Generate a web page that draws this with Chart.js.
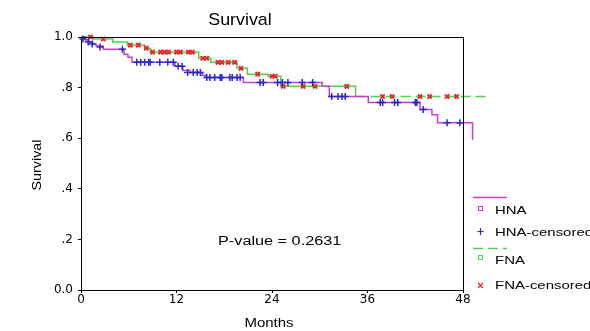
<!DOCTYPE html>
<html>
<head>
<meta charset="utf-8">
<script src="https://cdn.jsdelivr.net/npm/chart.js@4.4.1/dist/chart.umd.min.js"></script>
<style>
  body { margin: 0; background: #fff; }
  #wrap { width: 590px; height: 331px; }
</style>
</head>
<body>
<div id="wrap"><canvas id="km" width="590" height="331"></canvas></div>
<script>
// --- Data (months, survival) ---
const xTicks = [0, 12, 24, 36, 48];
const yTicks = [0, 0.2, 0.4, 0.6, 0.8, 1.0];

const hnaTimes = [0, 0.5, 1.0, 1.5, 1.9, 2.8, 5.4, 5.9, 6.4, 11.8, 12.8, 13.7, 15.2, 15.6, 20.4, 30.3, 31.2, 36.1, 42.6, 44.1, 44.8, 49.2, 50.5];
const hnaSurv  = [1.0, 0.988, 0.980, 0.972, 0.964, 0.952, 0.932, 0.920, 0.900, 0.884, 0.868, 0.860, 0.849, 0.840, 0.820, 0.805, 0.765, 0.741, 0.713, 0.693, 0.661, 0.594, 0.594];

const hnaCensTimes = [0.25, 0.9, 1.4, 2.4, 5.2, 7.0, 7.5, 8.0, 8.5, 8.7, 9.9, 10.9, 11.6, 12.2, 12.7, 13.4, 14.1, 14.6, 15.0, 15.8, 16.2, 16.8, 17.5, 17.7, 18.7, 19.0, 19.6, 20.0, 22.5, 22.9, 24.7, 25.3, 26.0, 27.8, 29.1, 31.5, 32.3, 32.8, 33.2, 37.6, 37.9, 39.4, 39.8, 42.0, 42.2, 43.0, 46.0, 47.6];
const hnaCensSurv  = [0.992, 0.980, 0.972, 0.960, 0.952, 0.900, 0.900, 0.900, 0.900, 0.900, 0.900, 0.900, 0.900, 0.884, 0.884, 0.860, 0.860, 0.860, 0.860, 0.840, 0.840, 0.840, 0.840, 0.840, 0.840, 0.840, 0.840, 0.840, 0.820, 0.820, 0.820, 0.820, 0.820, 0.820, 0.820, 0.765, 0.765, 0.765, 0.765, 0.741, 0.741, 0.741, 0.741, 0.741, 0.741, 0.713, 0.661, 0.661];

const fnaTimes = [0, 1.5, 4.0, 5.8, 8.0, 8.7, 14.8, 16.3, 19.6, 20.9, 23.5, 25.1, 34.5, 51.4];
const fnaSurv  = [1.0, 0.992, 0.980, 0.968, 0.956, 0.940, 0.916, 0.900, 0.876, 0.853, 0.845, 0.805, 0.765, 0.765];

const fnaCensTimes = [1.2, 2.8, 6.2, 7.2, 8.2, 9.0, 10.0, 10.5, 11.0, 12.0, 12.5, 13.5, 14.0, 15.3, 15.8, 17.2, 17.7, 18.5, 19.3, 20.1, 22.2, 24.0, 24.4, 25.4, 27.9, 29.4, 33.4, 37.9, 39.1, 42.6, 43.8, 46.0, 47.2];
const fnaCensSurv  = [1.0, 0.992, 0.968, 0.968, 0.956, 0.940, 0.940, 0.940, 0.940, 0.940, 0.940, 0.940, 0.940, 0.916, 0.916, 0.900, 0.900, 0.900, 0.900, 0.876, 0.853, 0.845, 0.845, 0.805, 0.805, 0.805, 0.805, 0.765, 0.765, 0.765, 0.765, 0.765, 0.765];

const HNA_COLOR = '#cc3ccc';
const HNA_CENS = '#2828c8';
const FNA_COLOR = '#4fd04f';
const FNA_CENS = '#e82828';

const pts = (xs, ys) => xs.map((x, i) => ({ x: x, y: ys[i] }));

// --- text helper: reference text is horizontally stretched ---
function stretchText(ctx, text, x, y, size, align, sx) {
    ctx.save();
    ctx.font = size + 'px "Liberation Sans", Arial, sans-serif';
    ctx.fillStyle = '#000';
    ctx.textBaseline = 'alphabetic';
    ctx.translate(x, y);
    ctx.scale(sx, 1);
    ctx.textAlign = align;
    ctx.fillText(text, 0, 0);
    ctx.restore();
}

const decorPlugin = {
    id: 'decor',
    afterDraw(chart) {
        const ctx = chart.ctx;
        const a = chart.chartArea;
        ctx.save();
        // box: top and right edges
        ctx.strokeStyle = '#000';
        ctx.lineWidth = 1;
        ctx.beginPath();
        ctx.moveTo(a.left, a.top + 0.5);
        ctx.lineTo(a.right + 0.5, a.top + 0.5);
        ctx.lineTo(a.right + 0.5, a.bottom);
        ctx.stroke();

        // titles
        stretchText(ctx, 'Survival', 240, 25, 17, 'center', 1.05);
        stretchText(ctx, 'Months', 269, 327, 12, 'center', 1.25);
        ctx.save();
        ctx.translate(41, 165);
        ctx.rotate(-Math.PI / 2);
        stretchText(ctx, 'Survival', 0, 0, 13, 'center', 1.1);
        ctx.restore();
        stretchText(ctx, 'P-value = 0.2631', 218, 245, 12.5, 'left', 1.3);

        // legend
        const lx = 473, tx = 495;
        ctx.lineWidth = 1.5;
        ctx.strokeStyle = HNA_COLOR;
        ctx.beginPath(); ctx.moveTo(lx, 197.5); ctx.lineTo(507, 197.5); ctx.stroke();
        ctx.lineWidth = 1;
        ctx.strokeRect(478.5, 206.5, 4, 4);
        stretchText(ctx, 'HNA', tx, 214, 11.5, 'left', 1.3);

        ctx.strokeStyle = HNA_CENS;
        ctx.lineWidth = 1.2;
        ctx.beginPath();
        ctx.moveTo(480.5, 228); ctx.lineTo(480.5, 235);
        ctx.moveTo(477.5, 231.5); ctx.lineTo(483.5, 231.5);
        ctx.stroke();
        stretchText(ctx, 'HNA-censored', tx, 236, 11.5, 'left', 1.3);

        ctx.strokeStyle = FNA_COLOR;
        ctx.lineWidth = 1.5;
        ctx.setLineDash([10, 5]);
        ctx.beginPath(); ctx.moveTo(lx, 248.5); ctx.lineTo(507, 248.5); ctx.stroke();
        ctx.setLineDash([]);
        ctx.lineWidth = 1;
        ctx.strokeRect(478.5, 255.5, 4, 4);
        stretchText(ctx, 'FNA', tx, 264, 11.5, 'left', 1.3);

        ctx.strokeStyle = FNA_CENS;
        ctx.lineWidth = 1.2;
        ctx.beginPath();
        ctx.moveTo(478, 283); ctx.lineTo(483, 288);
        ctx.moveTo(483, 283); ctx.lineTo(478, 288);
        ctx.stroke();
        stretchText(ctx, 'FNA-censored', tx, 289, 11.5, 'left', 1.3);
        ctx.restore();
    }
};

const tickFont = { family: '"DejaVu Sans", sans-serif', size: 12 };

new Chart(document.getElementById('km'), {
    type: 'scatter',
    data: {
        datasets: [
            {
                label: 'HNA',
                data: pts(hnaTimes, hnaSurv),
                showLine: true,
                stepped: 'before',
                borderColor: HNA_COLOR,
                borderWidth: 1.5,
                pointRadius: 0,
                clip: false,
                order: 3
            },
            {
                label: 'FNA',
                data: pts(fnaTimes, fnaSurv),
                showLine: true,
                stepped: 'before',
                borderColor: FNA_COLOR,
                borderWidth: 1.5,
                // the long flat tail is where the dash pattern shows
                segment: { borderDash: c => c.p0.parsed.x >= 34 ? [10, 5] : undefined },
                pointRadius: 0,
                clip: false,
                order: 4
            },
            {
                label: 'HNA-censored',
                data: pts(hnaCensTimes, hnaCensSurv),
                showLine: false,
                pointStyle: 'cross',
                pointRadius: 3.5,
                pointBorderWidth: 1.5,
                borderColor: HNA_CENS,
                backgroundColor: HNA_CENS,
                clip: false,
                order: 1
            },
            {
                label: 'FNA-censored',
                data: pts(fnaCensTimes, fnaCensSurv),
                showLine: false,
                pointStyle: 'crossRot',
                pointRadius: 3,
                pointBorderWidth: 2,
                borderColor: FNA_CENS,
                backgroundColor: FNA_CENS,
                clip: false,
                order: 2
            }
        ]
    },
    options: {
        responsive: false,
        animation: false,
        layout: { padding: { left: 0, top: 37, right: 127, bottom: 0 } },
        plugins: {
            legend: { display: false },
            tooltip: { enabled: false }
        },
        scales: {
            x: {
                type: 'linear',
                min: 0,
                max: 48,
                afterBuildTicks: s => { s.ticks = xTicks.map(v => ({ value: v })); },
                ticks: { font: tickFont, color: '#000', padding: 0, maxRotation: 0 },
                grid: { drawOnChartArea: false, drawTicks: true, tickLength: 3, color: '#000' },
                border: { display: true, color: '#000', width: 1 },
                afterFit: s => { s.height = 41; }
            },
            y: {
                type: 'linear',
                min: 0,
                max: 1,
                afterBuildTicks: s => { s.ticks = yTicks.map(v => ({ value: v })); },
                ticks: {
                    font: tickFont,
                    color: '#000',
                    padding: 5,
                    callback: v => v === 0 ? '0.0' : (v === 1 ? '1.0' : '.' + Math.round(v * 10))
                },
                grid: { drawOnChartArea: false, drawTicks: true, tickLength: 3, color: '#000' },
                border: { display: true, color: '#000', width: 1 },
                afterFit: s => { s.width = 81; }
            }
        }
    },
    plugins: [decorPlugin]
});
</script>
</body>
</html>
